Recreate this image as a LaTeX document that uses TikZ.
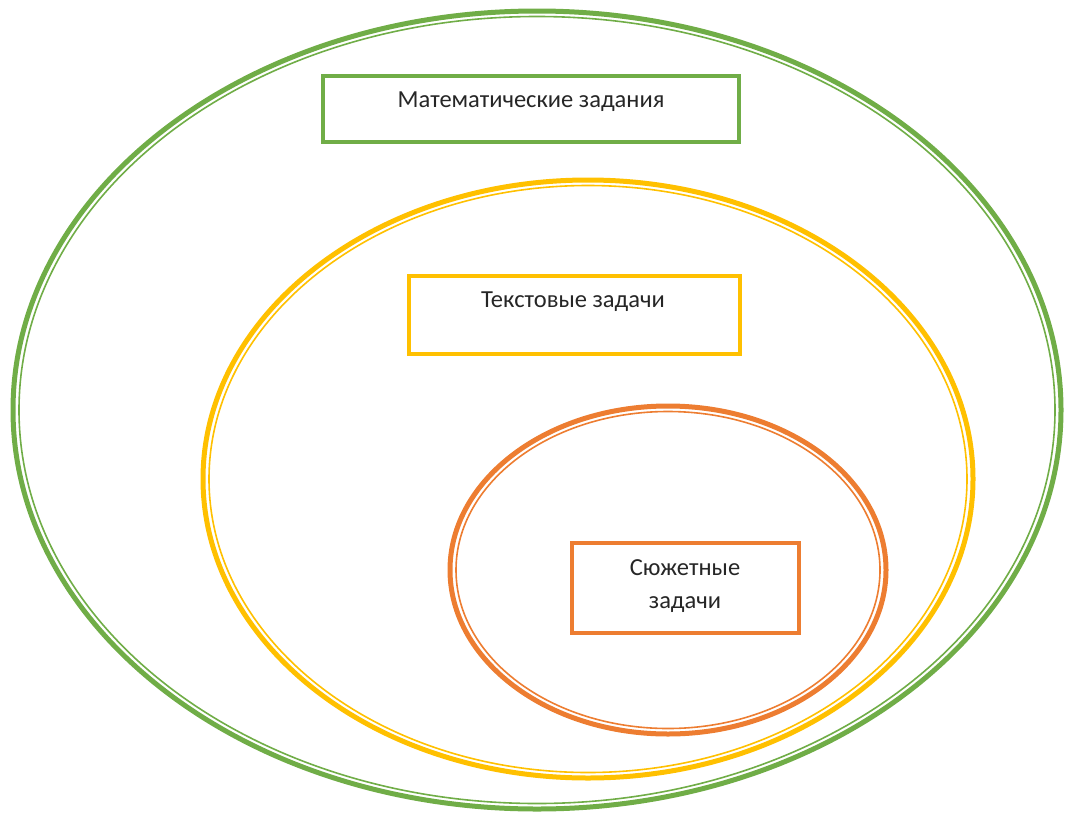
\documentclass[tikz,border=0pt]{standalone}
\usepackage{fontspec}
\setmainfont{Carlito}
\usetikzlibrary{positioning}
\definecolor{cgreen}{HTML}{70AD47}
\definecolor{cyellow}{HTML}{FFC000}
\definecolor{corange}{HTML}{ED7D31}
\begin{document}
\begin{tikzpicture}[x=1pt,y=-1pt,
  thickring/.style={line width=5pt},
  thinring/.style={line width=1.6pt},
  box/.style={line width=4pt,fill=white,inner sep=0pt},
  lbl/.style={font=\fontsize{24.5}{30}\selectfont,text=black!85,align=center}]
\useasboundingbox (0,0) rectangle (1067,819);
% green
\draw[cgreen,thickring] (537,410) ellipse [x radius=524, y radius=399];
\draw[cgreen,thinring] (537,410) ellipse [x radius=518, y radius=393.5];
% yellow
\draw[cyellow,thickring] (588,479) ellipse [x radius=385, y radius=299];
\draw[cyellow,thinring] (588,479) ellipse [x radius=379, y radius=293.5];
% orange
\draw[corange,thickring] (668,570) ellipse [x radius=218, y radius=164];
\draw[corange,thinring] (668,570) ellipse [x radius=212, y radius=158.5];
% boxes
\node[box,draw=cgreen,minimum width=416pt,minimum height=66pt] (bmath) at (531,109) {};
\node[lbl] (tmath) at (531,102) {Математические задания};
\node[box,draw=cyellow,minimum width=331pt,minimum height=78pt] (btext) at (574.5,315) {};
\node[lbl] (ttext) at (573,302) {Текстовые задачи};
\node[box,draw=corange,minimum width=227pt,minimum height=90pt] (bplot) at (685.5,588) {};
\node[lbl,font=\fontsize{24.5}{33}\selectfont] (tplot) at (685,586) {Сюжетные\\задачи};
\end{tikzpicture}
\end{document}
